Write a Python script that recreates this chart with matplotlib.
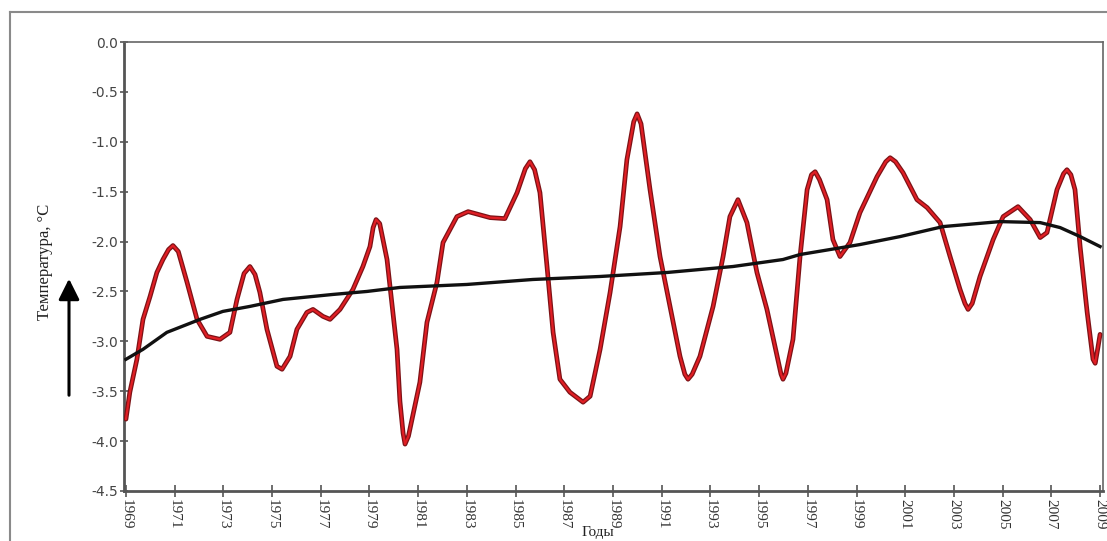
import matplotlib
matplotlib.use("Agg")
import matplotlib.pyplot as plt
from matplotlib.lines import Line2D
from matplotlib.patches import FancyArrowPatch

# ---- data ----
red_years = [1969.00, 1969.16, 1969.45, 1969.70, 1969.99, 1970.27, 1970.52, 1970.75, 1970.93,
             1971.15, 1971.51, 1971.92, 1972.33, 1972.86, 1973.27, 1973.56, 1973.85, 1974.09,
             1974.30, 1974.50, 1974.79, 1975.20, 1975.41, 1975.74, 1976.02, 1976.43, 1976.68,
             1977.09, 1977.38, 1977.79, 1978.32, 1978.73, 1979.02, 1979.15, 1979.27, 1979.42,
             1979.72, 1980.13, 1980.25, 1980.38, 1980.46, 1980.60, 1981.07, 1981.36, 1981.77,
             1982.02, 1982.59, 1983.05, 1983.95, 1984.56, 1985.06, 1985.40, 1985.59, 1985.78,
             1986.00, 1986.29, 1986.54, 1986.82, 1987.23, 1987.77, 1988.06, 1988.47, 1988.88,
             1989.29, 1989.57, 1989.85, 1989.99, 1990.15, 1990.52, 1990.93, 1991.34, 1991.75,
             1991.95, 1992.08, 1992.25, 1992.57, 1993.11, 1993.52, 1993.80, 1994.13, 1994.50,
             1994.91, 1995.32, 1995.74, 1995.90, 1995.98, 1996.10, 1996.39, 1996.68, 1996.97,
             1997.15, 1997.30, 1997.48, 1997.79, 1998.03, 1998.32, 1998.73, 1999.14, 1999.84,
             2000.20, 2000.38, 2000.60, 2000.91, 2001.48, 2001.90, 2002.43, 2002.84, 2003.25,
             2003.45, 2003.58, 2003.75, 2004.07, 2004.61, 2005.02, 2005.63, 2006.13, 2006.54,
             2006.82, 2007.23, 2007.50, 2007.64, 2007.80, 2007.97, 2008.18, 2008.47, 2008.71,
             2008.80, 2008.92, 2009.00]
red_temps = [-3.78, -3.51, -3.18, -2.78, -2.55, -2.31, -2.18, -2.08, -2.04,
             -2.10, -2.41, -2.78, -2.95, -2.98, -2.91, -2.58, -2.32, -2.25,
             -2.33, -2.51, -2.88, -3.25, -3.28, -3.15, -2.88, -2.71, -2.68,
             -2.75, -2.78, -2.68, -2.48, -2.25, -2.05, -1.86, -1.78, -1.82,
             -2.18, -3.08, -3.60, -3.92, -4.03, -3.95, -3.41, -2.81, -2.41,
             -2.01, -1.75, -1.70, -1.76, -1.77, -1.51, -1.27, -1.20, -1.28,
             -1.51, -2.25, -2.91, -3.38, -3.51, -3.61, -3.55, -3.08, -2.51,
             -1.85, -1.18, -0.80, -0.72, -0.82, -1.48, -2.15, -2.65, -3.15,
             -3.33, -3.38, -3.33, -3.15, -2.65, -2.15, -1.75, -1.58, -1.81,
             -2.31, -2.68, -3.15, -3.33, -3.38, -3.32, -2.98, -2.15, -1.48,
             -1.33, -1.30, -1.38, -1.58, -1.98, -2.15, -2.01, -1.71, -1.35,
             -1.20, -1.16, -1.20, -1.31, -1.58, -1.66, -1.81, -2.15, -2.48,
             -2.62, -2.68, -2.62, -2.35, -1.98, -1.75, -1.65, -1.78, -1.96,
             -1.91, -1.48, -1.32, -1.28, -1.33, -1.48, -2.05, -2.71, -3.18,
             -3.22, -3.05, -2.93]

trend_years = [1969.00, 1969.70, 1970.68, 1972.04, 1972.98, 1974.09, 1975.45, 1977.50,
               1978.90, 1980.25, 1983.00, 1985.71, 1988.47, 1991.22, 1993.93, 1995.98,
               1996.68, 1999.14, 2000.79, 2002.55, 2004.89, 2006.54, 2007.36, 2008.18,
               2009.00]
trend_temps = [-3.18, -3.08, -2.91, -2.78, -2.70, -2.65, -2.58, -2.53,
               -2.50, -2.46, -2.43, -2.38, -2.35, -2.31, -2.25, -2.18,
               -2.13, -2.03, -1.95, -1.85, -1.80, -1.81, -1.86, -1.95,
               -2.05]

x_ticks = list(range(1969, 2010, 2))
y_ticks = [0.0, -0.5, -1.0, -1.5, -2.0, -2.5, -3.0, -3.5, -4.0, -4.5]
y_label = "Температура, °С"
x_label = "Годы"

# ---- figure ----
W, H = 1107, 541
fig = plt.figure(figsize=(W / 100, H / 100), dpi=100)
fig.patch.set_facecolor("white")

ax = fig.add_axes([124 / W, 1 - 491 / H, (1103 - 124) / W, (491 - 42) / H])
ax.set_xlim(1968.92, 2009.12)
ax.set_ylim(-4.5, 0.0)

ax.plot(red_years, red_temps, color="#7d1216", lw=3.4, solid_joinstyle="round",
        solid_capstyle="round", zorder=3)
ax.plot(red_years, red_temps, color="#e01e24", lw=1.6, solid_joinstyle="round",
        solid_capstyle="round", zorder=4)
ax.plot(trend_years, trend_temps, color="#111111", lw=2.4, zorder=5)

ax.set_xticks(x_ticks)
ax.set_xticklabels([str(t) for t in x_ticks], rotation=270, fontsize=11,
                   family="Liberation Serif", color="#333333")
ax.set_yticks(y_ticks)
ax.set_yticklabels([f"{v:.1f}" for v in y_ticks], fontsize=10,
                   family="DejaVu Sans", color="#444444")
ax.tick_params(axis="x", direction="inout", length=9, width=1.2, color="#555555", pad=1)
ax.tick_params(axis="y", direction="inout", length=6, width=1.2, color="#555555", pad=1)

for side in ("left", "bottom"):
    ax.spines[side].set_color("#555555")
    ax.spines[side].set_linewidth(2.0)
for side in ("top", "right"):
    ax.spines[side].set_color("#666666")
    ax.spines[side].set_linewidth(1.2)

# axis titles
fig.text(45 / W, 1 - 262 / H, y_label, rotation=90, ha="center", va="center",
         fontsize=12, family="Liberation Serif", color="#222222")
fig.text(598 / W, 2 / H, x_label, ha="center", va="bottom",
         fontsize=11, family="Liberation Serif", color="#222222")

# upward arrow left of the axis
fig.add_artist(FancyArrowPatch(
    (69 / W, 1 - 398 / H), (69 / W, 1 - 276 / H), transform=fig.transFigure,
    arrowstyle="-|>,head_length=0.9,head_width=0.45", lw=2.2, color="black",
    mutation_scale=14))

# outer grey frame (left and top edges)
fig.add_artist(Line2D([10 / W, 10 / W], [0, 1 - 12 / H], transform=fig.transFigure,
                      color="#8a8a8a", lw=1.5))
fig.add_artist(Line2D([10 / W, 1], [1 - 12 / H, 1 - 12 / H], transform=fig.transFigure,
                      color="#8a8a8a", lw=1.5))

fig.savefig("out.png", dpi=100, facecolor="white")
